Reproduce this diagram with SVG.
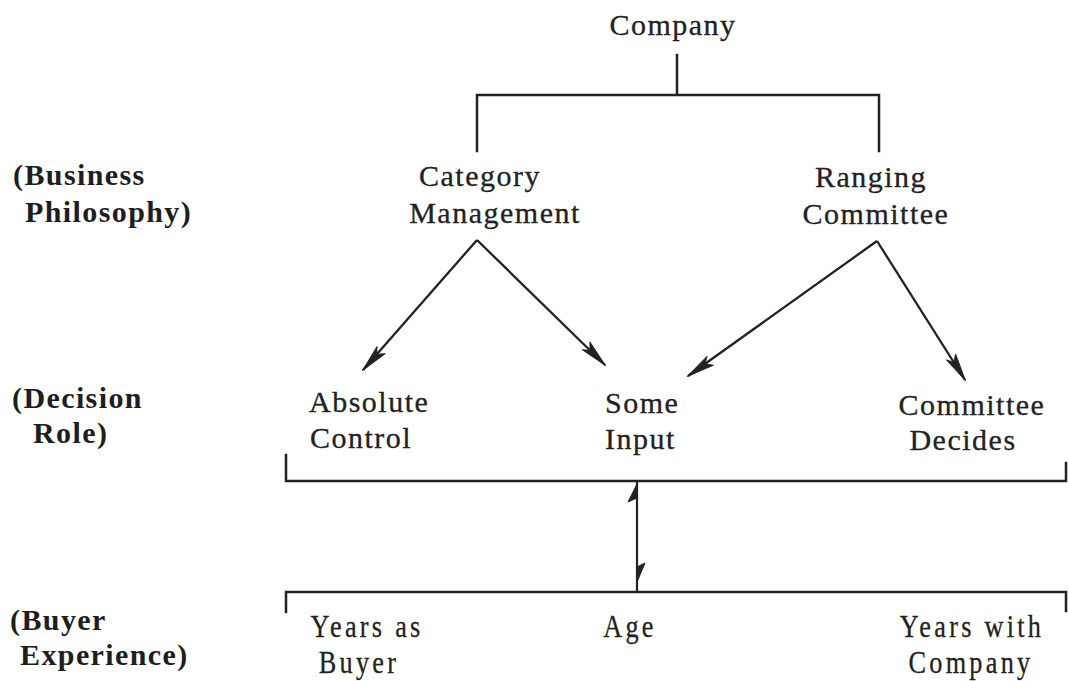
<svg xmlns="http://www.w3.org/2000/svg" width="1069" height="681" viewBox="0 0 1069 681">
  <style>
    .t { font-family: "Liberation Serif", "Times New Roman", serif; font-size: 30px; letter-spacing: 1.5px; fill: #222; stroke: #222; stroke-width: 0.3; }
    .m { text-anchor: middle; }
    .lbl { font-family: "Liberation Serif", "Times New Roman", serif; font-size: 30px; font-weight: bold; letter-spacing: 1.4px; fill: #1e1e1e; }
    .n { font-family: "Liberation Serif", "Times New Roman", serif; font-size: 32px; letter-spacing: 4px; fill: #222; stroke: #222; stroke-width: 0.3; text-anchor: middle; }
    .ln { stroke: #222; stroke-width: 2.5; fill: none; stroke-linecap: square; }
    .arr { stroke: #222; stroke-width: 2.3; fill: none; marker-end: url(#barb); }
    .head { fill: #222; stroke: #222; stroke-width: 1; stroke-linejoin: round; }
  </style>
  <defs>
    <marker id="barb" viewBox="-30 -8 32 16" refX="0" refY="0" markerWidth="32" markerHeight="16" markerUnits="userSpaceOnUse" orient="auto">
      <path d="M1,0 L-27,-6 L-21,0 L-27,5 Z" fill="#222" stroke="#222" stroke-width="0.8" stroke-linejoin="round"/>
    </marker>
  </defs>
  <rect width="1069" height="681" fill="#fff"/>

  <!-- level labels -->
  <g id="label-business">
    <text class="lbl" x="13" y="185">(Business</text>
    <text class="lbl" x="25" y="222">Philosophy)</text>
  </g>
  <g id="label-decision">
    <text class="lbl" x="12" y="408">(Decision</text>
    <text class="lbl" x="33" y="443">Role)</text>
  </g>
  <g id="label-buyer">
    <text class="lbl" x="10" y="630">(Buyer</text>
    <text class="lbl" x="20" y="665">Experience)</text>
  </g>

  <!-- nodes -->
  <g id="company"><text class="t m" x="673" y="35">Company</text></g>
  <g id="category-management">
    <text class="t m" x="480" y="186">Category</text>
    <text class="t m" x="495" y="223">Management</text>
  </g>
  <g id="ranging-committee">
    <text class="t m" x="871" y="187">Ranging</text>
    <text class="t m" x="876" y="224">Committee</text>
  </g>
  <g id="absolute-control">
    <text class="t" x="309" y="412">Absolute</text>
    <text class="t" x="310" y="448">Control</text>
  </g>
  <g id="some-input">
    <text class="t" x="605" y="413">Some</text>
    <text class="t" x="605" y="449">Input</text>
  </g>
  <g id="committee-decides">
    <text class="t m" x="972" y="415">Committee</text>
    <text class="t m" x="963" y="450">Decides</text>
  </g>
  <g id="years-as-buyer">
    <text class="n" transform="translate(367,637) scale(0.82,1)">Years as</text>
    <text class="n" transform="translate(359,673) scale(0.82,1)">Buyer</text>
  </g>
  <g id="age">
    <text class="n" transform="translate(630,637) scale(0.82,1)">Age</text>
  </g>
  <g id="years-with-company">
    <text class="n" transform="translate(972,637) scale(0.82,1)">Years with</text>
    <text class="n" transform="translate(971,673) scale(0.82,1)">Company</text>
  </g>

  <!-- connectors -->
  <g id="connectors">
    <!-- company split -->
    <path class="ln" d="M677,55 V95 M477,95 H879 M477,95 V151 M879,95 V151"/>
    <!-- philosophy to decision role -->
    <path class="arr" d="M477,240 L363,370"/>
    <path class="arr" d="M477,240 L605,365"/>
    <path class="arr" d="M877,241 L688,376"/>
    <path class="arr" d="M877,241 L965,380"/>
    <!-- role bracket -->
    <path class="ln" d="M286,455 V481 H1066 V463"/>
    <!-- experience bracket -->
    <path class="ln" d="M286,612 V592 H1066 V611"/>
    <!-- two-way link between brackets -->
    <path class="ln" d="M637,482 V591" style="stroke-width:2.2"/>
    <path class="head" d="M637,484 L628,502 L637,498 Z"/>
    <path class="head" d="M637,582 L645,563 L637,567 Z"/>
  </g>
</svg>
